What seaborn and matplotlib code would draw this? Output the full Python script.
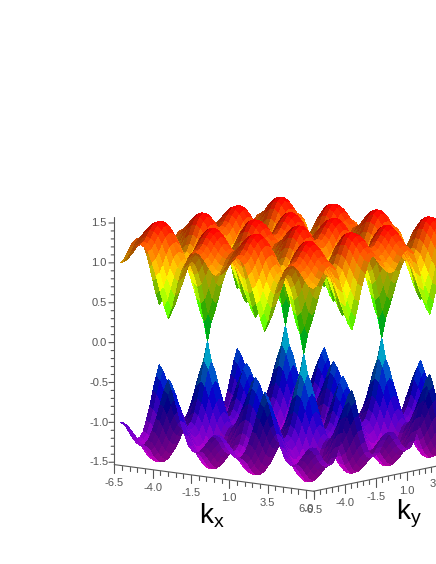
import numpy as np
import matplotlib
matplotlib.use("Agg")
import matplotlib.pyplot as plt
from matplotlib.colors import LightSource
from mpl_toolkits.mplot3d import proj3d
import seaborn as sns

sns.set_style("white")
plt.rcParams["font.family"] = ["Liberation Sans", "DejaVu Sans"]

# k nodes of the surface, both directions
k_nodes = [-6.28, -6.02, -5.76, -5.50, -5.24, -4.97, -4.71, -4.45, -4.19, -3.93, -3.67, -3.40, -3.14,
           -2.88, -2.62, -2.36, -2.09, -1.83, -1.57, -1.31, -1.05, -0.79, -0.52, -0.26, 0.0,
           0.26, 0.52, 0.79, 1.05, 1.31, 1.57, 1.83, 2.09, 2.36, 2.62, 2.88, 3.14,
           3.40, 3.67, 3.93, 4.19, 4.45, 4.71, 4.97, 5.24, 5.50, 5.76, 6.02, 6.28]
# band height, one repeating quarter cell (saddle -> peak -> cone tip)
cell_heights = [
    [1.00, 1.02, 1.09, 1.17, 1.23, 1.26, 1.24, 1.18, 1.05, 0.89, 0.70, 0.52, 0.38],
    [1.02, 1.05, 1.11, 1.19, 1.25, 1.28, 1.27, 1.20, 1.08, 0.92, 0.74, 0.58, 0.46],
    [1.09, 1.11, 1.17, 1.24, 1.31, 1.34, 1.32, 1.26, 1.15, 1.00, 0.84, 0.71, 0.62],
    [1.17, 1.19, 1.24, 1.31, 1.38, 1.41, 1.40, 1.34, 1.24, 1.11, 0.96, 0.85, 0.80],
    [1.23, 1.25, 1.31, 1.38, 1.44, 1.47, 1.46, 1.41, 1.32, 1.20, 1.07, 0.97, 0.93],
    [1.26, 1.28, 1.34, 1.41, 1.47, 1.50, 1.50, 1.45, 1.37, 1.25, 1.13, 1.04, 1.01],
    [1.24, 1.27, 1.32, 1.40, 1.46, 1.50, 1.50, 1.46, 1.37, 1.26, 1.15, 1.06, 1.02],
    [1.18, 1.20, 1.26, 1.34, 1.41, 1.45, 1.46, 1.41, 1.33, 1.22, 1.11, 1.02, 0.98],
    [1.05, 1.08, 1.15, 1.24, 1.32, 1.37, 1.37, 1.33, 1.25, 1.14, 1.01, 0.91, 0.87],
    [0.89, 0.92, 1.00, 1.11, 1.20, 1.25, 1.26, 1.22, 1.14, 1.01, 0.87, 0.76, 0.71],
    [0.70, 0.74, 0.84, 0.96, 1.07, 1.13, 1.15, 1.11, 1.01, 0.87, 0.71, 0.56, 0.50],
    [0.52, 0.58, 0.71, 0.85, 0.97, 1.04, 1.06, 1.02, 0.91, 0.76, 0.56, 0.37, 0.26],
    [0.38, 0.46, 0.62, 0.80, 0.93, 1.01, 1.02, 0.98, 0.87, 0.71, 0.50, 0.26, 0.00],
]
k_ticks = [-6.5, -4.0, -1.5, 1.0, 3.5, 6.0]
y_labelled = [-6.5, -4.0, -1.5, 1.0, 3.5]
z_ticks = [-1.5, -1.0, -0.5, 0.0, 0.5, 1.0, 1.5]

cell = np.array(cell_heights)
fold = [min(abs(i) % 24, 24 - abs(i) % 24) for i in range(-24, 25)]
upper = cell[np.ix_(fold, fold)]
KX, KY = np.meshgrid(k_nodes, k_nodes, indexing="ij")

W = 560
fig = plt.figure(figsize=(4.36, 5.64), dpi=100)
ax = fig.add_axes([7 / 436, -63 / 564, W / 436, W / 564], projection="3d", proj_type="ortho")
ax.view_init(elev=9.5, azim=-51)
ax.set_box_aspect((1, 1, 0.946), zoom=0.7564)

hue = sns.color_palette("hsv", as_cmap=True)
light = LightSource(azdeg=80, altdeg=40)


def band_colors(z, dim):
    mid = (z[:-1, :-1] + z[1:, :-1] + z[:-1, 1:] + z[1:, 1:]) / 4
    rgba = hue(np.interp(mid, [-1.5, -1, -0.5, 0, 0.3, 0.75, 1.5], [0.86, 0.75, 0.63, 0.47, 0.33, 0.19, 0.0]))
    # slopes as seen in the box (z is stretched about 4x against k)
    dzdx = 4 * (z[1:, :-1] + z[1:, 1:] - z[:-1, :-1] - z[:-1, 1:]) / (2 * 0.262)
    dzdy = 4 * (z[:-1, 1:] + z[1:, 1:] - z[:-1, :-1] - z[1:, :-1]) / (2 * 0.262)
    normals = np.dstack([-dzdx, -dzdy, np.ones_like(dzdx)])
    normals /= np.linalg.norm(normals, axis=2, keepdims=True)
    lit = np.clip((normals * light.direction).sum(axis=2), 0, 1)
    rgba[..., :3] *= dim * np.clip(0.66 + 0.55 * lit, 0, 1)[..., None]
    return rgba


for z, dim in ((-upper, 0.8), (upper, 1.0)):
    ax.plot_surface(KX, KY, z, facecolors=band_colors(z, dim), rstride=1, cstride=1,
                    linewidth=0, antialiased=False, shade=False)

ax.set_xlim(-6.5, 6.5)
ax.set_ylim(-6.5, 6.5)
ax.set_zlim(-1.5, 1.5)
ax.set_axis_off()

# axes drawn by hand, Maple style
line = dict(color="#555555", lw=0.8)
base = -1.53
ax.plot([-6.5, 6.5], [-6.5, -6.5], [base, base], **line)
ax.plot([6.5, 6.5], [-6.5, 6.5], [base, base], **line)
ax.plot([-6.5, -6.5], [-6.5, -6.5], [base, 1.57], **line)

for t in np.arange(-6.5, 6.51, 0.5):
    major = t in k_ticks
    size = 0.1 if major else 0.055
    ax.plot([t, t], [-6.5, -6.5], [base, base - size], **line)
    ax.plot([6.5, 6.5], [t, t], [base, base - size], **line)

for t in np.arange(-1.5, 1.51, 0.1):
    major = round(t, 1) in z_ticks
    d = 0.19 if major else 0.11
    ax.plot([-6.5, -6.5 - d], [-6.5, -6.5 - d], [t, t], **line)


def axis_label(x, y, z, s):
    px, py, _ = proj3d.proj_transform(x, y, z, ax.get_proj())
    ax.text2D(px, py, s, transform=ax.transData, color="#555555", fontsize=8, ha="center", va="center")


for t in k_ticks:
    axis_label(t, -6.5, -1.76, f"{t:.1f}")
for t in y_labelled:
    axis_label(6.5, t, -1.76, f"{t:.1f}")
for t in z_ticks:
    axis_label(-7.05, -7.05, t, f"{t:.1f}")

fig.text(199 / 436, 1 - 524 / 564, r"$\mathregular{k_x}$", fontsize=20, color="black")
fig.text(396 / 436, 1 - 519 / 564, r"$\mathregular{k_y}$", fontsize=20, color="black")

fig.savefig("out.png", dpi=100)
